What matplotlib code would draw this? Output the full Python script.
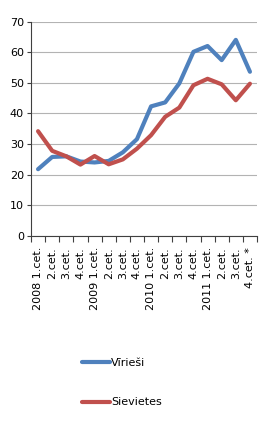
import matplotlib
matplotlib.use("Agg")
import matplotlib.pyplot as plt
import numpy as np

categories = ["2008 1.cet.", "2.cet.", "3.cet.", "4.cet.",
              "2009 1.cet.", "2.cet.", "3.cet.", "4.cet.",
              "2010 1.cet.", "2.cet.", "3.cet.", "4.cet.",
              "2011 1.cet.", "2.cet.", "3.cet.", "4.cet. *"]
virieši = [21.8, 25.8, 26.0, 24.3, 24.0, 24.5, 27.3, 31.6,
           42.3, 43.6, 49.8, 60.1, 62.0, 57.4, 64.0, 53.6]
sievietes = [34.2, 27.8, 26.0, 23.3, 26.1, 23.4, 25.0, 28.5,
             32.9, 38.9, 41.9, 49.2, 51.3, 49.5, 44.3, 49.7]
series_labels = ["Vīrieši", "Sievietes"]
yticks = [0, 10, 20, 30, 40, 50, 60, 70]

W, H = 259, 425
fig = plt.figure(figsize=(W / 100, H / 100), dpi=100)
ax = fig.add_axes([31 / W, 1 - 236 / H, 226 / W, (236 - 21.5) / H])

x = np.arange(len(categories))
l1, = ax.plot(x, virieši, color="#4F81BD", lw=3.0, solid_capstyle="round",
              solid_joinstyle="round", zorder=3)
l2, = ax.plot(x, sievietes, color="#C0504D", lw=3.0, solid_capstyle="round",
              solid_joinstyle="round", zorder=3)

ax.set_xlim(-0.5, len(categories) - 0.5)
ax.set_ylim(0, 70)
ax.set_yticks(yticks)
ax.yaxis.grid(True, color="#b3b3b3", lw=0.8)
ax.set_axisbelow(True)
for s in ["top", "right"]:
    ax.spines[s].set_visible(False)
for s in ["left", "bottom"]:
    ax.spines[s].set_color("#404040")
    ax.spines[s].set_linewidth(0.8)

ax.set_xticks(x)
ax.set_xticklabels(categories, rotation=90, fontsize=8)
ax.tick_params(axis="x", which="major", length=0, pad=8)
ax.set_xticks(np.arange(-0.5, len(categories), 1), minor=True)
ax.tick_params(axis="x", which="minor", length=4, direction="out",
               color="#404040", width=0.8)
ax.tick_params(axis="y", length=3, direction="out", color="#404040",
               width=0.8, labelsize=8, pad=2)

fig.legend([l1, l2], series_labels, loc="upper left",
           bbox_to_anchor=(72 / W, 1 - 348 / H), frameon=False,
           fontsize=8, handlelength=2.5, handletextpad=0.1,
           labelspacing=2.65)

fig.savefig("out.png", dpi=100)
